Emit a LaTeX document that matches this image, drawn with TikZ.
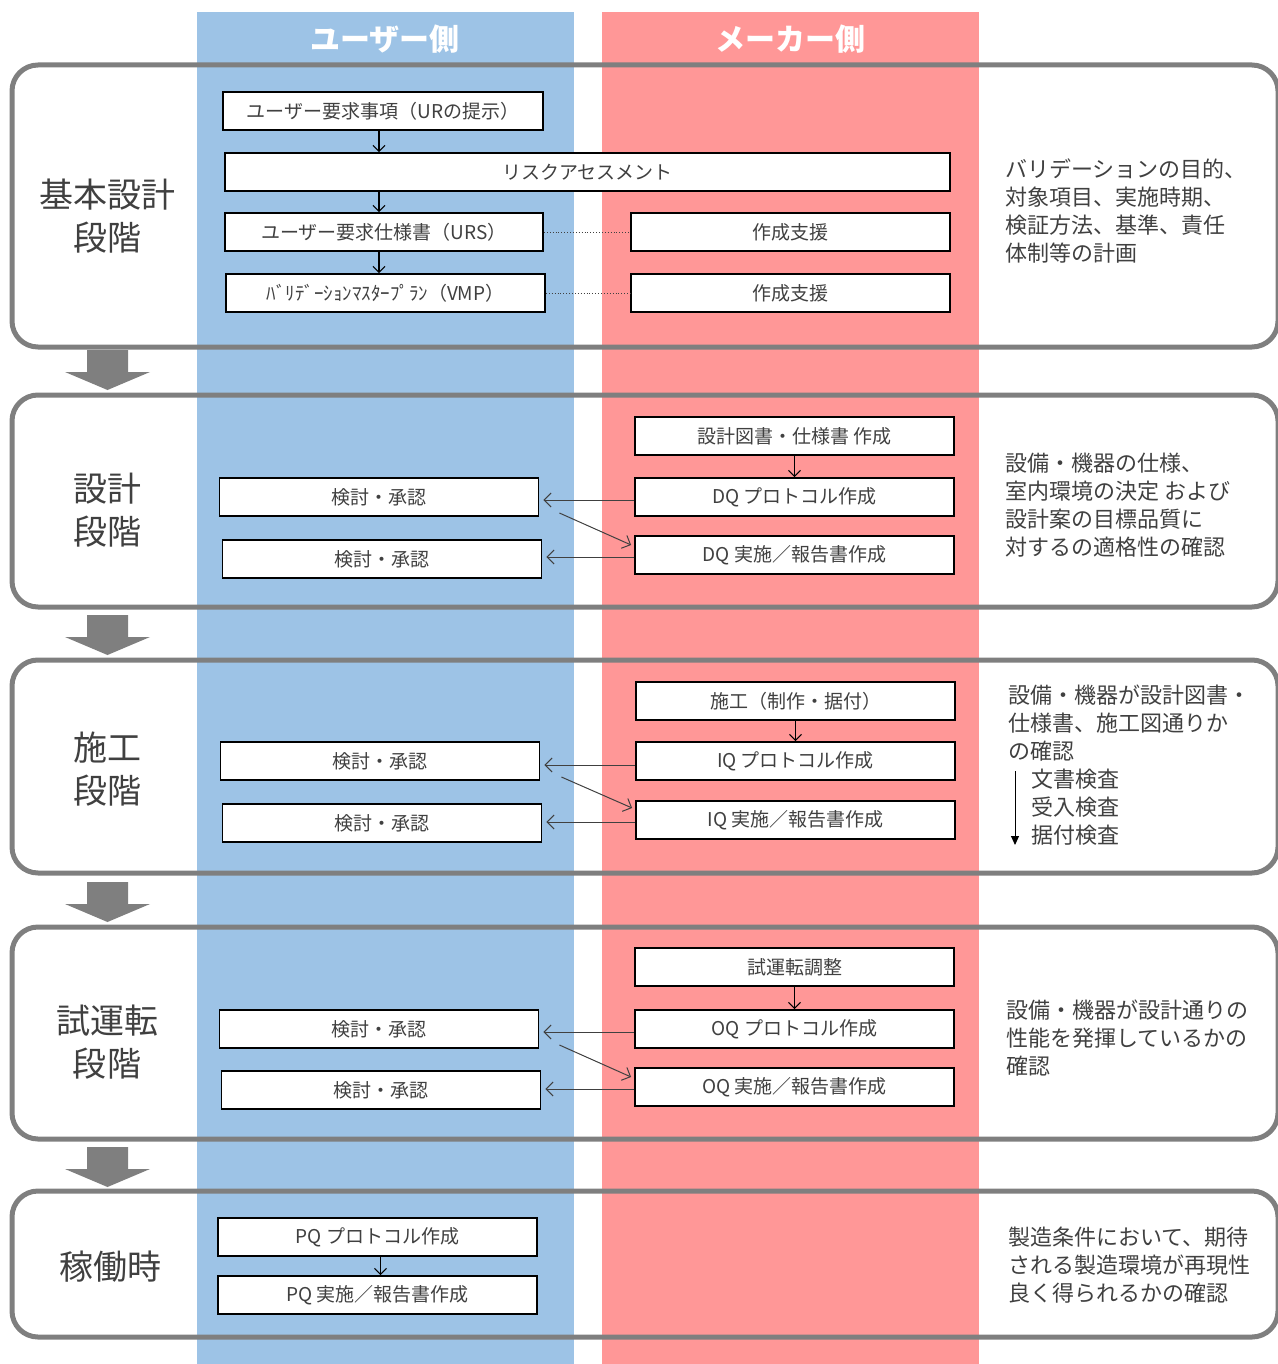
\documentclass[tikz,border=0pt]{standalone}
\usepackage{fontspec}
\setmainfont{Noto Sans CJK JP}
\usetikzlibrary{arrows.meta,calc}
\definecolor{ublue}{HTML}{9DC3E6}
\definecolor{mred}{HTML}{FF9797}
\definecolor{frame}{HTML}{7F7F7F}
\definecolor{txt}{HTML}{404040}
\begin{document}
\begin{tikzpicture}[x=1pt,y=-1pt,
  box/.style={draw=black, line width=1.8pt, fill=white, minimum height=38pt, minimum width=319pt, inner sep=0pt, text=txt, font=\fontsize{19}{19}\selectfont},
  phase/.style={draw=frame, line width=5pt, rounded corners=26pt},
  plabel/.style={text=txt, align=center, font=\fontsize{34}{43}\selectfont},
  note/.style={text=txt, align=left, anchor=west, inner sep=0pt, font=\fontsize{22}{28}\selectfont},
  head/.style={text=white, font=\fontsize{30}{30}\selectfont\bfseries},
  varrow/.style={draw=black, line width=1.1pt, -{Straight Barb[length=6pt,width=12pt,line width=1.1pt]}},
  harrow/.style={draw=txt, line width=1pt, -{Straight Barb[length=7pt,width=14pt,line width=1pt]}},
  dotline/.style={draw=txt, line width=0.9pt, dotted},
  blockarrow/.style={fill=frame}
]
\useasboundingbox (0,0) rectangle (1277,1364);
% columns
\fill[ublue] (197,12) rectangle (574,1364);
\fill[mred] (602,12) rectangle (979,1364);
\node[head] (huser) at (385,39) {ユーザー側};
\node[head] (hmaker) at (790,39) {メーカー側};

% phase frames
\draw[phase] (12,65) rectangle (1278,347);
\draw[phase] (12,395) rectangle (1278,607);
\draw[phase] (12,660) rectangle (1278,873);
\draw[phase] (12,927) rectangle (1278,1139);
\draw[phase] (12,1191) rectangle (1278,1337);

% block arrows
\foreach \yy in {350,615,882,1147}{
  \fill[blockarrow] (87,\yy) -- (128,\yy) -- (128,\yy+22) -- (150,\yy+22) -- (107.5,\yy+40) -- (65,\yy+22) -- (87,\yy+22) -- cycle;
}

% phase labels
\node[plabel] (l1) at (107,216) {基本設計\\段階};
\node[plabel] (l2) at (107,510) {設計\\段階};
\node[plabel] (l3) at (107,769) {施工\\段階};
\node[plabel] (l4) at (107,1042) {試運転\\段階};
\node[plabel] (l5) at (110,1267) {稼働時};

% phase 1
\node[box, minimum width=320pt] (ur) at (383,111) {ユーザー要求事項（URの提示）};
\node[box, minimum width=725pt] (risk) at (587.5,172) {リスクアセスメント};
\node[box, minimum width=318pt] (urs) at (384,232) {ユーザー要求仕様書（URS）};
\node[box] (vmp) at (385.5,293) {ﾊﾞﾘﾃﾞｰｼｮﾝﾏｽﾀｰﾌﾟﾗﾝ（VMP）};
\node[box] (sup1) at (790.5,232) {作成支援};
\node[box] (sup2) at (790.5,293) {作成支援};
\coordinate (a1) at ($(ur.south)+(-4,0)$);
\coordinate (a2) at ($(urs.north)+(-5,0)$);
\coordinate (a3) at ($(urs.south)+(-5,0)$);
\draw[varrow] (a1) -- (a1 |- risk.north);
\draw[varrow] (a2 |- risk.south) -- (a2);
\draw[varrow] (a3) -- (a3 |- vmp.north);
\draw[dotline] (urs.east) -- (sup1.west);
\draw[dotline] (vmp.east) -- (sup2.west);
\node[note] (n1) at (1005,211) {バリデーションの目的、\\対象項目、実施時期、\\検証方法、基準、責任\\体制等の計画};

% phase 2
\node[box] (dqd) at (794.5,436) {設計図書・仕様書 作成};
\node[box] (dqp) at (794.5,497) {DQ プロトコル作成};
\node[box] (dqr) at (794.5,555) {DQ 実施／報告書作成};
\node[box] (r2a) at (379,497) {検討・承認};
\node[box] (r2b) at (382,559) {検討・承認};
\draw[varrow] (dqd.south) -- (dqp.north);
\draw[harrow, shorten >=4pt] ($(dqp.west)+(0,3)$) -- ($(dqp.west -| r2a.east)+(0,3)$);
\draw[harrow] ($(r2a.east)+(20,16)$) -- ($(dqr.west)+(-3,-10)$);
\draw[harrow, shorten >=4pt] ($(dqr.west)+(0,2)$) -- ($(dqr.west -| r2b.east)+(0,2)$);
\node[note] (n2) at (1005,505) {設備・機器の仕様、\\室内環境の決定 および\\設計案の目標品質に\\対するの適格性の確認};

% phase 3
\node[box] (sk) at (795.5,701) {施工（制作・据付）};
\node[box] (iqp) at (795.5,761) {IQ プロトコル作成};
\node[box] (iqr) at (795.5,820) {IQ 実施／報告書作成};
\node[box] (r3a) at (380,761) {検討・承認};
\node[box] (r3b) at (382,823) {検討・承認};
\draw[varrow] (sk.south) -- (iqp.north);
\draw[harrow, shorten >=4pt] ($(iqp.west)+(0,4)$) -- ($(iqp.west -| r3a.east)+(0,4)$);
\draw[harrow] ($(r3a.east)+(21,16)$) -- ($(iqr.west)+(-3,-12)$);
\draw[harrow, shorten >=4pt] ($(iqr.west)+(0,2)$) -- ($(iqr.west -| r3b.east)+(0,2)$);
\node[note] (n3) at (1008,723) {設備・機器が設計図書・\\仕様書、施工図通りか\\の確認};
\node[note] (n3b) at (1031,807) {文書検査\\受入検査\\据付検査};
\coordinate (v3top) at (1015,771);
\coordinate (v3bot) at (1015,845);
\draw[line width=1pt, -{Triangle[length=9pt,width=8pt]}] (v3top) -- (v3bot);

% phase 4
\node[box] (sh) at (794.5,967) {試運転調整};
\node[box] (oqp) at (794.5,1029) {OQ プロトコル作成};
\node[box] (oqr) at (794.5,1087) {OQ 実施／報告書作成};
\node[box] (r4a) at (379,1029) {検討・承認};
\node[box] (r4b) at (381,1090) {検討・承認};
\draw[varrow] (sh.south) -- (oqp.north);
\draw[harrow, shorten >=4pt] ($(oqp.west)+(0,3)$) -- ($(oqp.west -| r4a.east)+(0,3)$);
\draw[harrow] ($(r4a.east)+(20,16)$) -- ($(oqr.west)+(-3,-10)$);
\draw[harrow, shorten >=4pt] ($(oqr.west)+(0,2)$) -- ($(oqr.west -| r4b.east)+(0,2)$);
\node[note] (n4) at (1006,1038) {設備・機器が設計通りの\\性能を発揮しているかの\\確認};

% phase 5
\node[box] (pqp) at (377.5,1237) {PQ プロトコル作成};
\node[box] (pqr) at (377.5,1295) {PQ 実施／報告書作成};
\coordinate (a5) at ($(pqp.south)+(3,0)$);
\draw[varrow] (a5) -- (a5 |- pqr.north);
\node[note] (n5) at (1008,1265) {製造条件において、期待\\される製造環境が再現性\\良く得られるかの確認};
\end{tikzpicture}
\end{document}
